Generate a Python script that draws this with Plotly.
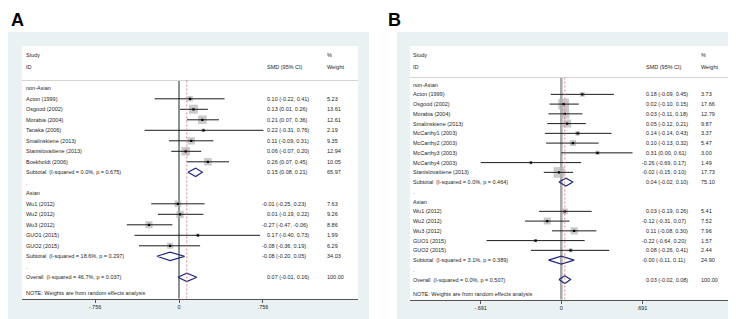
import math
import plotly.graph_objects as go

W, H = 736, 319
FONT = "Liberation Sans, Arial, sans-serif"

# ---------------- Panel A data ----------------
A_study = ["Acton (1999)", "Osgood (2002)", "Morabia (2004)", "Tanaka (2006)",
           "Smalinskiene (2013)", "Stanislovaitiene (2013)", "Boekholdt (2006)",
           "Wu1 (2012)", "Wu2 (2012)", "Wu3 (2012)", "GUO1 (2015)", "GUO2 (2015)"]
A_group = ["non-Asian"] * 7 + ["Asian"] * 5
A_est = [0.10, 0.13, 0.21, 0.22, 0.11, 0.06, 0.26, -0.01, 0.01, -0.27, 0.17, -0.08]
A_lo = [-0.22, 0.01, 0.07, -0.31, -0.09, -0.07, 0.07, -0.25, -0.19, -0.47, -0.40, -0.36]
A_hi = [0.41, 0.26, 0.36, 0.76, 0.31, 0.20, 0.45, 0.23, 0.22, -0.06, 0.73, 0.19]
A_wt = [5.23, 13.61, 12.61, 2.19, 9.35, 12.94, 10.05, 7.63, 9.26, 8.86, 1.99, 6.29]
A_sub_group = ["non-Asian", "Asian"]
A_sub_text = ["Subtotal  (I-squared = 0.0%, p = 0.675)",
              "Subtotal  (I-squared = 18.6%, p = 0.297)"]
A_sub_est = [0.15, -0.08]
A_sub_lo = [0.08, -0.20]
A_sub_hi = [0.21, 0.05]
A_sub_wt = [65.97, 34.03]
A_overall_text = "Overall  (I-squared = 46.7%, p = 0.037)"
A_overall = [0.07, -0.01, 0.16, 100.00]
A_ticks = [-0.756, 0, 0.756]
A_ticklabels = ["-.756", "0", ".756"]

# ---------------- Panel B data ----------------
B_study = ["Acton (1999)", "Osgood (2002)", "Morabia (2004)", "Smalinskiene (2013)",
           "McCarthy1 (2003)", "McCarthy2 (2003)", "McCarthy3 (2003)", "McCarthy4 (2003)",
           "Stanislovaitiene (2013)",
           "Wu1 (2012)", "Wu2 (2012)", "Wu3 (2012)", "GUO1 (2015)", "GUO2 (2015)"]
B_group = ["non-Asian"] * 9 + ["Asian"] * 5
B_est = [0.18, 0.02, 0.03, 0.05, 0.14, 0.10, 0.31, -0.26, -0.02, 0.03, -0.12, 0.11, -0.22, 0.08]
B_lo = [-0.09, -0.10, -0.11, -0.12, -0.14, -0.13, 0.00, -0.69, -0.15, -0.19, -0.31, -0.08, -0.64, -0.26]
B_hi = [0.45, 0.15, 0.18, 0.21, 0.43, 0.32, 0.61, 0.17, 0.10, 0.26, 0.07, 0.30, 0.20, 0.41]
B_wt = [3.73, 17.66, 12.79, 9.87, 3.37, 5.47, 3.00, 1.49, 17.73, 5.41, 7.52, 7.96, 1.57, 2.44]
B_sub_group = ["non-Asian", "Asian"]
B_sub_text = ["Subtotal  (I-squared = 0.0%, p = 0.464)",
              "Subtotal  (I-squared = 3.1%, p = 0.389)"]
B_sub_est = [0.04, -0.0]
B_sub_lo = [-0.02, -0.11]
B_sub_hi = [0.10, 0.11]
B_sub_wt = [75.10, 24.90]
B_overall_text = "Overall  (I-squared = 0.0%, p = 0.507)"
B_overall = [0.03, -0.02, 0.08, 100.00]
B_ticks = [-0.691, 0, 0.691]
B_ticklabels = ["-.691", "0", ".691"]

NOTE_TEXT = "NOTE: Weights are from random effects analysis"


def build_rows(study, group, est, lo, hi, wt, sub_group, sub_text,
               sub_est, sub_lo, sub_hi, sub_wt, ov_text, ov):
    rows = []
    for gi, g in enumerate(sub_group):
        rows.append(dict(kind="head", label=g))
        for i in range(len(study)):
            if group[i] == g:
                rows.append(dict(kind="study", label=study[i], est=est[i],
                                 lo=lo[i], hi=hi[i], wt=wt[i]))
        rows.append(dict(kind="sub", label=sub_text[gi], est=sub_est[gi],
                         lo=sub_lo[gi], hi=sub_hi[gi], wt=sub_wt[gi]))
        rows.append(dict(kind="gap", label="."))
    rows.append(dict(kind="overall", label=ov_text, est=ov[0], lo=ov[1],
                     hi=ov[2], wt=ov[3]))
    return rows


def px(x):
    return x / W


def py(y):
    return 1 - y / H


panels = [
    dict(name="A", letter_x=3, rows=build_rows(A_study, A_group, A_est, A_lo, A_hi, A_wt,
                                               A_sub_group, A_sub_text, A_sub_est, A_sub_lo,
                                               A_sub_hi, A_sub_wt, A_overall_text, A_overall),
         ticks=A_ticks, ticklabels=A_ticklabels, overall=A_overall,
         bg=(0, 24, 361, 316), white=(14, 38, 350, 290.7), zero=171.0, ppu=111.1,
         row0=80.3, rowh=10.5, hline=72.5, study_x=18, ci_x=258.5, ci_neg_x=254.3,
         wt_x=319, k=2.4, null_color="#222222", null_w=1.0, xa="x", ya="y"),
    dict(name="B", letter_x=380, rows=build_rows(B_study, B_group, B_est, B_lo, B_hi, B_wt,
                                                 B_sub_group, B_sub_text, B_sub_est, B_sub_lo,
                                                 B_sub_hi, B_sub_wt, B_overall_text, B_overall),
         ticks=B_ticks, ticklabels=B_ticklabels, overall=B_overall,
         bg=(389, 24, 736, 316), white=(402, 38, 725, 291.7), zero=553.3, ppu=116.8,
         row0=76.6, rowh=9.75, hline=69.5, study_x=405, ci_x=638.0, ci_neg_x=634.0,
         wt_x=693, k=2.55, null_color="#a9a9a9", null_w=2.6, xa="x2", ya="y2"),
]

fig = go.Figure()
shapes = []
annotations = []
layout_axes = {}

TXT = "#262626"

for pi, p in enumerate(panels):
    x0, y0, x1, y1 = p["white"]
    xr = [(x0 - p["zero"]) / p["ppu"], (x1 - p["zero"]) / p["ppu"]]
    yr = [(y1 - p["row0"]) / p["rowh"], (y0 - p["row0"]) / p["rowh"]]
    suffix = "" if pi == 0 else "2"
    layout_axes["xaxis" + suffix] = dict(
        domain=[px(x0), px(x1)], range=xr, anchor=p["ya"], showgrid=False, zeroline=False,
        showline=True, linecolor="#555555", linewidth=1, ticks="outside", ticklen=3,
        tickcolor="#555555", tickvals=p["ticks"], ticktext=p["ticklabels"],
        tickfont=dict(size=5.5, color=TXT, family=FONT), fixedrange=True)
    layout_axes["yaxis" + suffix] = dict(
        domain=[py(y1), py(y0)], range=yr, anchor=p["xa"], visible=False, fixedrange=True)

    # backgrounds
    bx0, by0, bx1, by1 = p["bg"]
    shapes.append(dict(type="rect", xref="paper", yref="paper", x0=px(bx0), x1=px(bx1),
                       y0=py(by1), y1=py(by0), fillcolor="#eaf1f3", line=dict(width=0),
                       layer="below"))
    shapes.append(dict(type="rect", xref="paper", yref="paper", x0=px(x0), x1=px(x1),
                       y0=py(y1), y1=py(y0), fillcolor="#ffffff", line=dict(width=0),
                       layer="below"))
    # header separator line
    hl_row = (p["hline"] - p["row0"]) / p["rowh"]
    shapes.append(dict(type="line", xref="paper", yref=p["ya"], x0=px(x0), x1=px(x1),
                       y0=hl_row, y1=hl_row, line=dict(color="#d4d4d4", width=1)))
    # null line
    shapes.append(dict(type="line", xref=p["xa"], yref=p["ya"], x0=0, x1=0,
                       y0=hl_row, y1=yr[0], line=dict(color=p["null_color"], width=p["null_w"]),
                       layer="below"))
    # overall dashed line
    shapes.append(dict(type="line", xref=p["xa"], yref=p["ya"], x0=p["overall"][0],
                       x1=p["overall"][0], y0=hl_row, y1=yr[0],
                       line=dict(color="#cf7a7a", width=0.9, dash="2px,2px")))

    # panel letter
    annotations.append(dict(text="<b>%s</b>" % p["name"], xref="paper", yref="paper",
                            x=px(p["letter_x"]), y=py(11.5), xanchor="left", yanchor="middle",
                            showarrow=False, font=dict(size=18, color="#000000", family=FONT),
                            borderpad=0, borderwidth=0))

    def txt(s, xpix, yval, yref, size=5.5):
        annotations.append(dict(text=s, xref="paper", yref=yref, x=px(xpix), y=yval,
                                xanchor="left", yanchor="middle", showarrow=False,
                                font=dict(size=size, color=TXT, family=FONT),
                                borderpad=0, borderwidth=0))

    # header
    txt("Study", p["study_x"], py(47.5), "paper")
    txt("ID", p["study_x"], py(59), "paper")
    txt("SMD (95% CI)", p["ci_x"], py(59), "paper")
    txt("%", p["wt_x"], py(47.5), "paper")
    txt("Weight", p["wt_x"], py(59), "paper")

    sq_x, sq_y, sq_s = [], [], []
    ci_x, ci_y = [], []
    dots_x, dots_y = [], []
    for r, row in enumerate(p["rows"]):
        txt(row["label"], p["study_x"], r, p["ya"])
        if row["kind"] in ("study", "sub", "overall"):
            est_s = "%.2f" % row["est"]
            s = "%s (%.2f, %.2f)" % (est_s, row["lo"], row["hi"])
            xpos = p["ci_neg_x"] if est_s.startswith("-") else p["ci_x"]
            txt(s, xpos, r, p["ya"])
            txt("%.2f" % row["wt"], p["wt_x"], r, p["ya"])
        if row["kind"] == "study":
            sq_x.append(row["est"]); sq_y.append(r); sq_s.append(p["k"] * math.sqrt(row["wt"]))
            ci_x += [row["lo"], row["hi"], None]; ci_y += [r, r, None]
            dots_x.append(row["est"]); dots_y.append(r)
        if row["kind"] in ("sub", "overall"):
            fig.add_trace(go.Scatter(
                x=[row["lo"], row["est"], row["hi"], row["est"], row["lo"]],
                y=[r, r - 0.4, r, r + 0.4, r], mode="lines",
                line=dict(color="#1f2a7c", width=1.2), xaxis=p["xa"], yaxis=p["ya"],
                hoverinfo="skip", showlegend=False))
    note_r = len(p["rows"]) - 1 + 1.5
    txt(NOTE_TEXT, p["study_x"], note_r, p["ya"])

    fig.add_trace(go.Scatter(x=sq_x, y=sq_y, mode="markers",
                             marker=dict(symbol="square", size=sq_s, color="#b4b4b4",
                                         line=dict(width=0)),
                             xaxis=p["xa"], yaxis=p["ya"], showlegend=False, hoverinfo="skip"))
    fig.add_trace(go.Scatter(x=ci_x, y=ci_y, mode="lines",
                             line=dict(color="#1a1a1a", width=1),
                             xaxis=p["xa"], yaxis=p["ya"], showlegend=False, hoverinfo="skip"))
    fig.add_trace(go.Scatter(x=dots_x, y=dots_y, mode="markers",
                             marker=dict(symbol="square", size=2.2, color="#000000",
                                         line=dict(width=0)),
                             xaxis=p["xa"], yaxis=p["ya"], showlegend=False, hoverinfo="skip"))

fig.update_layout(
    width=W, height=H, margin=dict(l=0, r=0, t=0, b=0),
    paper_bgcolor="#ffffff", plot_bgcolor="rgba(0,0,0,0)",
    shapes=shapes, annotations=annotations, showlegend=False,
    font=dict(family=FONT, size=5.5, color=TXT),
    **layout_axes)

fig.write_html("out.html")
